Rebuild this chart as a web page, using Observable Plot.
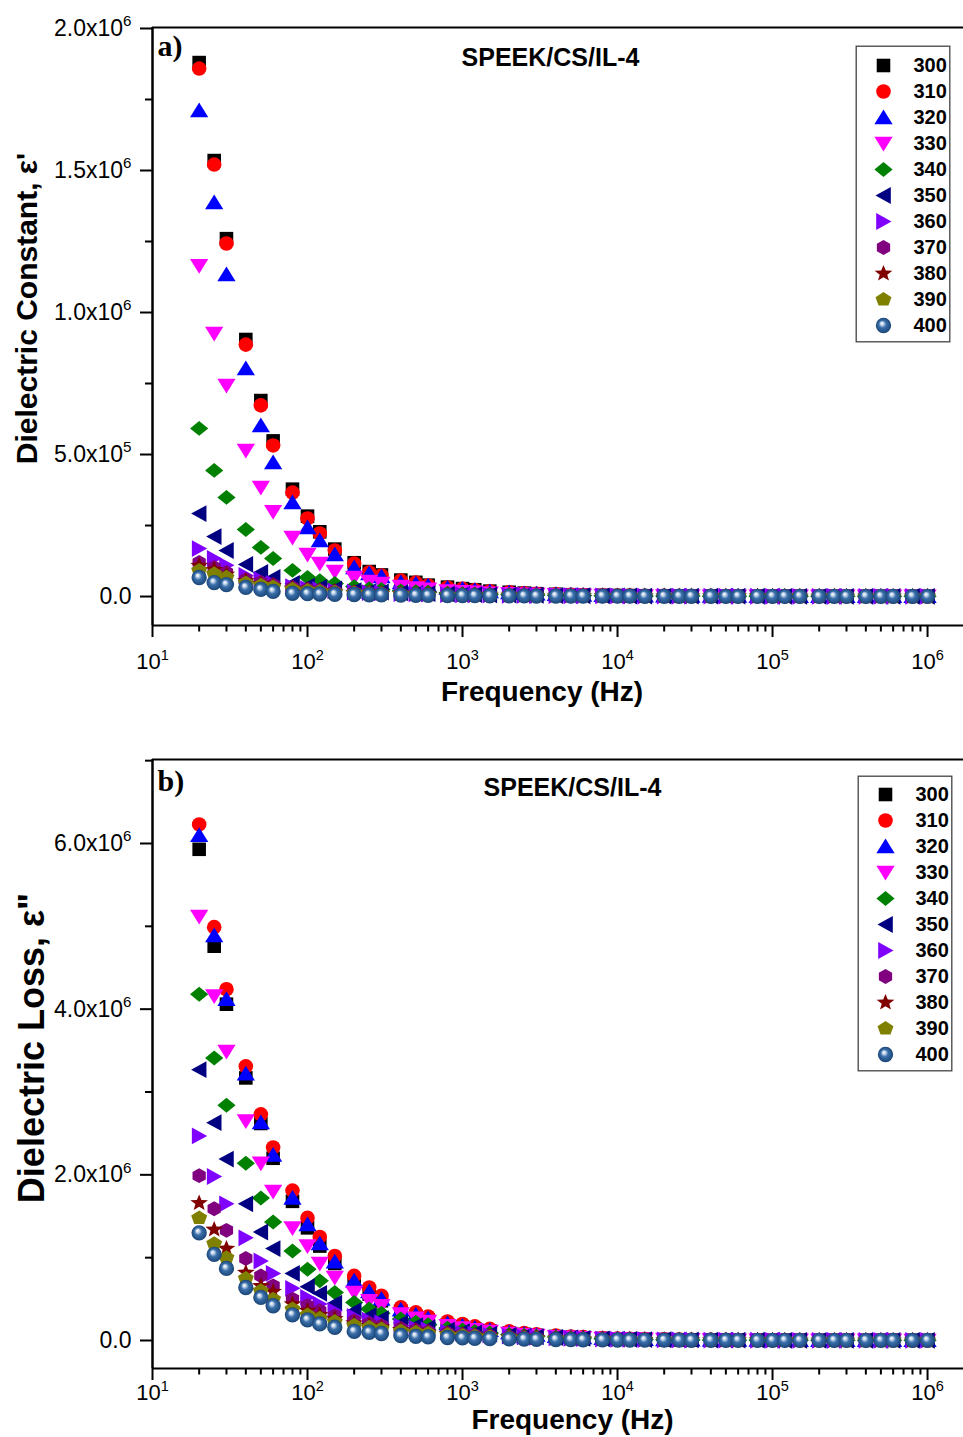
<!DOCTYPE html>
<html><head><meta charset="utf-8">
<script src="https://cdn.jsdelivr.net/npm/d3@7"></script>
<script src="https://cdn.jsdelivr.net/npm/@observablehq/plot@0.6"></script>
<style>
body{margin:0;background:#fff;}
#wrap{position:relative;width:963px;height:1437px;overflow:hidden;background:#fff;}
#wrap svg{position:absolute;}
</style></head><body>
<svg width="0" height="0" style="position:absolute"><defs>
<radialGradient id="sphere" cx="50%" cy="50%" r="50%" fx="38%" fy="34%">
<stop offset="0%" stop-color="#ffffff"/><stop offset="20%" stop-color="#c9d9ec"/>
<stop offset="48%" stop-color="#3a6fab"/><stop offset="100%" stop-color="#1a4576"/>
</radialGradient></defs></svg>
<div id="wrap"></div>
<script>
// ---------- data ----------
const freqs = [20,25,30,40,50,60,80,
  100,120,150,200,250,300,400,500,600,800,
  1e3,1.2e3,1.5e3,2e3,2.5e3,3e3,4e3,5e3,6e3,8e3,
  1e4,1.2e4,1.5e4,2e4,2.5e4,3e4,4e4,5e4,6e4,8e4,
  1e5,1.2e5,1.5e5,2e5,2.5e5,3e5,4e5,5e5,6e5,8e5,
  1e6];
const temps = ["300","310","320","330","340","350","360","370","380","390","400"];
const colors = ["#000000","#ff0000","#0000ff","#ff00ff","#008000","#000080","#8000ff","#800080","#800000","#808000","url(#sphere)"];
const xMajor = [1e1,1e2,1e3,1e4,1e5,1e6];
const xMinor = [2,3,4,5,6,7,8,9].flatMap(m => [1e1,1e2,1e3,1e4,1e5].map(p => m*p));

// Dielectric constant ε' (units of 1e4)
const er300 = [188,153.5,126,90.5,69,54.8,37.8, 28.3,22.8,16.7,11.9,8.8,7.6,5.8,5.0,4.0,3.3, 2.8,2.4,1.9,1.5,1.2,1.0,0.8,0.65,0.55,0.45, 0.38,0.33,0.28,0.24,0.21,0.19,0.17,0.15,0.14,0.13, 0.12,0.11,0.1,0.1,0.09,0.09,0.08,0.08,0.08,0.07, 0.07];
const er310 = [185.9,152.1,124.3,88.7,67.3,53.2,36.6, 27.5,22.2,16.2,11.6,8.5,7.4,5.6,4.9,3.9,3.2, 2.7,2.3,1.85,1.45,1.15,0.98,0.78,0.63,0.54,0.44, 0.37,0.32,0.27,0.23,0.2,0.18,0.16,0.15,0.14,0.13, 0.12,0.11,0.1,0.1,0.09,0.09,0.08,0.08,0.08,0.07, 0.07];
const er320 = [171.1,138.7,113.4,80.3,60.2,47.2,33.1, 24.3,19.7,14.8,10.2,8.1,7.0,4.9,4.5,3.8,3.0, 2.6,2.2,1.8,1.4,1.1,0.95,0.75,0.6,0.5,0.42, 0.36,0.31,0.27,0.23,0.2,0.18,0.16,0.15,0.14,0.13, 0.12,0.11,0.1,0.1,0.09,0.09,0.08,0.08,0.08,0.07, 0.07];
const er330 = [116.5,92.6,74.3,51.4,38.4,29.9,20.8, 14.8,11.6,8.8,6.7,5.3,4.6,3.5,3.0,2.6,2.0, 1.7,1.5,1.2,1.0,0.85,0.75,0.6,0.5,0.43,0.36, 0.31,0.28,0.24,0.21,0.19,0.17,0.15,0.14,0.13,0.12, 0.11,0.1,0.1,0.09,0.09,0.08,0.08,0.08,0.07,0.07, 0.07];
const er340 = [59.2,44.4,34.9,23.6,17.3,13.4,9.2, 6.7,5.6,4.6,3.5,2.8,2.5,2.0,1.7,1.5,1.2, 1.0,0.9,0.8,0.65,0.55,0.5,0.42,0.36,0.32,0.27, 0.24,0.22,0.2,0.18,0.16,0.15,0.14,0.13,0.12,0.11, 0.1,0.1,0.09,0.09,0.08,0.08,0.08,0.07,0.07,0.07, 0.07];
const er350 = [29.2,21.1,16.2,11.3,8.5,6.7,4.6, 3.7,3.2,2.7,2.1,1.8,1.6,1.3,1.1,1.0,0.85, 0.75,0.68,0.6,0.5,0.45,0.41,0.35,0.31,0.28,0.24, 0.21,0.19,0.17,0.16,0.15,0.14,0.13,0.12,0.11,0.1, 0.1,0.09,0.09,0.08,0.08,0.08,0.07,0.07,0.07,0.07, 0.06];
const er360 = [16.9,13.4,11.0,7.4,6.0,4.6,3.5, 2.8,2.4,2.0,1.6,1.4,1.25,1.05,0.92,0.82,0.7, 0.62,0.56,0.5,0.43,0.38,0.35,0.3,0.27,0.25,0.22, 0.2,0.18,0.16,0.15,0.14,0.13,0.12,0.11,0.1,0.1, 0.09,0.09,0.08,0.08,0.08,0.07,0.07,0.07,0.07,0.06, 0.06];
const er370 = [12.0,10.2,8.5,6.0,5.0,4.2,3.2, 2.6,2.2,1.85,1.5,1.3,1.15,0.98,0.86,0.77,0.66, 0.58,0.53,0.47,0.41,0.37,0.34,0.29,0.26,0.24,0.21, 0.19,0.17,0.16,0.15,0.14,0.13,0.12,0.11,0.1,0.1, 0.09,0.09,0.08,0.08,0.08,0.07,0.07,0.07,0.07,0.06, 0.06];
const er380 = [10.9,9.5,7.8,5.5,4.5,3.8,2.9, 2.3,2.0,1.7,1.4,1.2,1.05,0.9,0.8,0.72,0.62, 0.55,0.5,0.45,0.39,0.35,0.32,0.28,0.25,0.23,0.2, 0.18,0.17,0.15,0.14,0.13,0.12,0.11,0.1,0.1,0.09, 0.09,0.08,0.08,0.08,0.07,0.07,0.07,0.07,0.06,0.06, 0.06];
const er390 = [9.2,8.0,6.8,4.8,4.0,3.4,2.6, 2.1,1.8,1.55,1.3,1.1,0.98,0.84,0.75,0.68,0.58, 0.52,0.47,0.42,0.37,0.33,0.3,0.26,0.24,0.22,0.19, 0.17,0.16,0.14,0.13,0.12,0.11,0.1,0.1,0.09,0.09, 0.08,0.08,0.08,0.07,0.07,0.07,0.07,0.06,0.06,0.06, 0.06];
const er400 = [6.7,4.9,4.2,3.2,2.5,1.8,1.1, 1.0,0.9,0.8,0.7,0.62,0.57,0.5,0.45,0.41,0.36, 0.32,0.3,0.27,0.24,0.22,0.2,0.18,0.16,0.15,0.14, 0.13,0.12,0.11,0.1,0.1,0.09,0.09,0.08,0.08,0.08, 0.07,0.07,0.07,0.07,0.06,0.06,0.06,0.06,0.06,0.05, 0.05];

// Dielectric loss ε" (units of 1e4)
const el300 = [593,476,406,317,262,220,168, 136,114,93,70,56,48,35,29,25,19, 16.5,14,11.5,9,7.4,6.3,4.9,4.0,3.4,2.6, 2.1,1.8,1.5,1.15,0.95,0.82,0.65,0.55,0.48,0.4, 0.35,0.32,0.29,0.26,0.24,0.23,0.22,0.21,0.21,0.2, 0.2];
const el310 = [623,499,424,331,273,233,181, 148,125,102,78,64,54,40,34,29,23, 20,17,14,11,9,7.6,5.9,4.8,4.1,3.1, 2.5,2.1,1.75,1.35,1.1,0.95,0.75,0.62,0.54,0.45, 0.39,0.35,0.31,0.28,0.26,0.25,0.23,0.22,0.22,0.21, 0.2];
const el320 = [610,489,412,322,263,224,172, 140,117,95,72,59,50,37,31,26.5,20.5, 17.5,15,12.3,9.6,7.9,6.7,5.2,4.3,3.6,2.8, 2.25,1.9,1.6,1.22,1.0,0.87,0.7,0.58,0.51,0.42, 0.37,0.33,0.3,0.27,0.25,0.24,0.22,0.21,0.21,0.2, 0.2];
const el330 = [512,416,349,265,214,180,136, 114,93,76,58,48,42,32,27,23,18, 15,13,10.8,8.5,7.0,6.0,4.7,3.9,3.3,2.5, 2.05,1.75,1.45,1.12,0.93,0.8,0.64,0.54,0.47,0.39, 0.34,0.31,0.28,0.25,0.23,0.22,0.21,0.2,0.2,0.19, 0.19];
const el340 = [418,341,284,214,172,143,108, 86,72,58,46,38,33,26,22,19,15, 12.8,11,9.2,7.3,6.1,5.2,4.1,3.4,2.9,2.2, 1.8,1.55,1.3,1.0,0.83,0.72,0.58,0.49,0.43,0.36, 0.31,0.28,0.26,0.23,0.22,0.21,0.2,0.19,0.19,0.18, 0.18];
const el350 = [327,263,219,165,131,111,81, 65,57,45,36,30,26.5,21,18,15.5,12.5, 10.6,9.2,7.7,6.2,5.2,4.5,3.6,3.0,2.55,2.0, 1.6,1.4,1.17,0.92,0.77,0.67,0.54,0.46,0.41,0.34, 0.3,0.27,0.25,0.22,0.21,0.2,0.19,0.19,0.18,0.18, 0.17];
const el360 = [247,198,165,124,96,81,63, 52,44,36,29,24.5,21.5,17.5,15,13,10.5, 9,7.8,6.6,5.3,4.5,3.9,3.1,2.6,2.25,1.75, 1.45,1.25,1.05,0.84,0.7,0.62,0.5,0.43,0.38,0.32, 0.28,0.26,0.24,0.21,0.2,0.19,0.19,0.18,0.18,0.17, 0.17];
const el370 = [199,159,133,99,78,66,50, 42,36,30,24,20.5,18,14.7,12.6,11,9, 7.7,6.7,5.7,4.6,3.9,3.4,2.7,2.3,2.0,1.55, 1.3,1.12,0.95,0.76,0.64,0.56,0.46,0.4,0.35,0.3, 0.27,0.25,0.23,0.21,0.2,0.19,0.18,0.18,0.17,0.17, 0.17];
const el380 = [166,134,111,82,66,59,44, 36,31,26,21,18,16,13,11.2,9.8,8.1, 6.9,6.0,5.1,4.1,3.5,3.0,2.45,2.05,1.8,1.42, 1.18,1.03,0.88,0.71,0.6,0.53,0.43,0.37,0.33,0.28, 0.25,0.23,0.21,0.19,0.18,0.18,0.17,0.17,0.16,0.16, 0.16];
const el390 = [148,117,100,75,60,50,38, 31,27,23,18.5,16,14,11.5,10,8.8,7.3, 6.2,5.4,4.6,3.8,3.2,2.8,2.25,1.9,1.65,1.3, 1.1,0.95,0.82,0.66,0.56,0.5,0.41,0.36,0.32,0.28, 0.25,0.23,0.21,0.19,0.18,0.18,0.17,0.17,0.16,0.16, 0.16];
const el400 = [130,104,87,64,52,42,31, 25,20,16,11,10,8.5,6,5,4.4,3.6, 3.1,2.7,2.3,1.9,1.65,1.45,1.2,1.0,0.9,0.75, 0.65,0.57,0.5,0.43,0.38,0.35,0.3,0.27,0.25,0.23, 0.21,0.2,0.19,0.18,0.17,0.17,0.16,0.16,0.16,0.15, 0.15];

const realSeries = [er300,er310,er320,er330,er340,er350,er360,er370,er380,er390,er400];
const lossSeries = [el300,el310,el320,el330,el340,el350,el360,el370,el380,el390,el400];

// ---------- symbols ----------
function sym(fn){ return {draw(c, size){ fn(c, Math.sqrt(size/Math.PI)); }}; }
function polyPts(c, pts){ pts.forEach(([x,y],i)=> i ? c.lineTo(x,y) : c.moveTo(x,y)); c.closePath(); }
function regular(c, r, n, sx, sy, rot){
  const pts=[]; for(let k=0;k<n;k++){const a=rot+2*Math.PI*k/n; pts.push([sx*r*Math.cos(a), sy*r*Math.sin(a)]);} polyPts(c, pts);
}
const symbols = [
  sym((c,r)=>{const h=0.93*r; polyPts(c,[[-h,-h],[h,-h],[h,h],[-h,h]]);}),
  sym((c,r)=>{c.moveTo(r,0); c.arc(0,0,r,0,2*Math.PI); c.closePath();}),
  sym((c,r)=>polyPts(c,[[0,-1.1*r],[1.25*r,0.92*r],[-1.25*r,0.92*r]])),
  sym((c,r)=>polyPts(c,[[0,1.1*r],[1.25*r,-0.92*r],[-1.25*r,-0.92*r]])),
  sym((c,r)=>polyPts(c,[[0,-1.02*r],[1.25*r,0],[0,1.02*r],[-1.25*r,0]])),
  sym((c,r)=>polyPts(c,[[-1.1*r,0],[1.0*r,-1.15*r],[1.0*r,1.15*r]])),
  sym((c,r)=>polyPts(c,[[1.1*r,0],[-1.0*r,-1.15*r],[-1.0*r,1.15*r]])),
  sym((c,r)=>regular(c,r,6,1.05,1.02,-Math.PI/2)),
  sym((c,r)=>{const pts=[];for(let k=0;k<10;k++){const a=-Math.PI/2+Math.PI*k/5;const R=k%2?0.5*r:1.18*r;pts.push([1.08*R*Math.cos(a),R*Math.sin(a)]);}polyPts(c,pts);}),
  sym((c,r)=>regular(c,r,5,1.15,1.02,-Math.PI/2)),
  sym((c,r)=>{const rr=1.05*r; c.moveTo(rr,0); c.arc(0,0,rr,0,2*Math.PI); c.closePath();})
];

const FONT = "'Liberation Sans', Arial, sans-serif";
const xDomain = [10, Math.pow(10, 6.232)];

function fmtX(d){ return "10^" + Math.round(Math.log10(d)); }
function fmtY(v){
  if (v === 0) return "0.0";
  const e = Math.floor(Math.log10(v) + 1e-9);
  return (v/Math.pow(10,e)).toFixed(1) + "x10^" + e;
}
function supify(svg){
  d3.select(svg).selectAll("text").each(function(){
    const t = this.textContent;
    if (!t || t.indexOf("^") < 0) return;
    const [base, exp] = t.split("^");
    const s = d3.select(this);
    s.text(null);
    s.append("tspan").text(base);
    s.append("tspan").attr("font-size","0.66em").attr("dy","-0.62em").text(exp);
  });
}

function makePanel(cfg){
  const rows = [];
  temps.forEach((T,i)=> cfg.series[i].forEach((v,j)=> rows.push({f: freqs[j], v: v*1e4, T})));
  const svg = Plot.plot({
    width: 963, height: cfg.height,
    marginLeft: 152, marginRight: 0, marginTop: cfg.mt, marginBottom: cfg.mb,
    style: {fontFamily: FONT, fontSize: "21px", background: "transparent", color: "#000", overflow: "visible"},
    x: {type: "log", domain: xDomain},
    y: {domain: cfg.yDomain},
    color: {type: "ordinal", domain: temps, range: colors},
    symbol: {domain: temps, range: symbols},
    marks: [
      Plot.ruleY([cfg.yDomain[1]], {stroke: "#000", strokeWidth: 2}),
      Plot.ruleY([cfg.yDomain[0]], {stroke: "#000", strokeWidth: 2}),
      Plot.ruleX([xDomain[0]], {stroke: "#000", strokeWidth: 2.5}),
      Plot.axisX(xMajor, {tickSize: 12, tickPadding: cfg.xPad, strokeWidth: 2, tickFormat: fmtX, fontSize: 22, label: null}),
      Plot.axisX(xMinor, {tickSize: 6.5, strokeWidth: 2, tickFormat: () => "", label: null}),
      Plot.axisY(cfg.yMajor, {tickSize: 12, tickPadding: 9, strokeWidth: 2, tickFormat: fmtY, fontSize: 23, label: null}),
      Plot.axisY(cfg.yMinor, {tickSize: 7, strokeWidth: 2, tickFormat: () => "", label: null}),
      Plot.dot(rows, {x: "f", y: "v", fill: "T", symbol: "T", r: 7.3, stroke: "none"}),
      Plot.text([cfg.tag], {text: d => d, frameAnchor: "top-left", dx: 5, dy: cfg.tagDy, textAnchor: "start", lineAnchor: "middle", fontFamily: "'Liberation Serif', 'Times New Roman', serif", fontWeight: "bold", fontSize: 30}),
      Plot.text(["SPEEK/CS/IL-4"], {text: d => d, frameAnchor: "top", dx: cfg.titleDx, dy: cfg.titleDy, textAnchor: "middle", lineAnchor: "middle", fontWeight: "bold", fontSize: 25}),
      Plot.text([cfg.yLabel], {text: d => d, frameAnchor: "left", rotate: -90, dx: cfg.ytDx, dy: cfg.ytDy, textAnchor: "middle", lineAnchor: "middle", fontWeight: "bold", fontSize: cfg.ytSize}),
      Plot.text(["Frequency (Hz)"], {text: d => d, frameAnchor: "bottom", dx: cfg.xtDx, dy: cfg.xtDy, textAnchor: "middle", lineAnchor: "middle", fontWeight: "bold", fontSize: 28})
    ]
  });
  supify(svg);
  svg.style.left = "0px";
  svg.style.top = cfg.top + "px";
  return svg;
}

function makeLegend(cfg){
  const svg = Plot.plot({
    width: 95, height: cfg.h, margin: 0,
    style: {fontFamily: FONT, background: "#fff", color: "#000", overflow: "visible"},
    y: {type: "point", domain: temps, range: [cfg.t, cfg.h - cfg.b], padding: 0, axis: null},
    color: {type: "ordinal", domain: temps, range: colors},
    symbol: {domain: temps, range: symbols},
    marks: [
      Plot.frame({stroke: "#444", strokeWidth: 1.3, inset: 0.7}),
      Plot.dot(temps, {y: d => d, frameAnchor: "left", dx: 28, fill: d => d, symbol: d => d, r: 7.3, stroke: "none"}),
      Plot.text(temps, {y: d => d, text: d => d, frameAnchor: "left", dx: 58, textAnchor: "start", lineAnchor: "middle", fontSize: 20, fontWeight: "bold"})
    ]
  });
  svg.style.left = cfg.left + "px";
  svg.style.top = cfg.top + "px";
  return svg;
}

const wrap = document.getElementById("wrap");
wrap.appendChild(makePanel({
  top: 0, height: 720, mt: 27, mb: 95,
  series: realSeries,
  yDomain: [-1.02e5, 2.0035e6],
  yMajor: [0, 5e5, 1e6, 1.5e6, 2e6],
  yMinor: [2.5e5, 7.5e5, 1.25e6, 1.75e6],
  xPad: 16, tag: "a)", tagDy: 19,
  titleDx: -7.5, titleDy: 30,
  yLabel: "Dielectric Constant, ε'", ytDx: -125, ytDy: -18, ytSize: 30,
  xtDx: -16, xtDy: 67
}));
wrap.appendChild(makePanel({
  top: 720, height: 717, mt: 39, mb: 69,
  series: lossSeries,
  yDomain: [-0.338e6, 7.014e6],
  yMajor: [0, 2e6, 4e6, 6e6],
  yMinor: [1e6, 3e6, 5e6, 7e6],
  xPad: 4, tag: "b)", tagDy: 22,
  titleDx: 14.5, titleDy: 28,
  yLabel: "Dielectric Loss, ε\"", ytDx: -120, ytDy: -16, ytSize: 36,
  xtDx: 14.5, xtDy: 52
}));
wrap.appendChild(makeLegend({left: 855, top: 45, h: 297, t: 17, b: 14}));
wrap.appendChild(makeLegend({left: 857, top: 775, h: 296, t: 16, b: 14}));
</script></body></html>
